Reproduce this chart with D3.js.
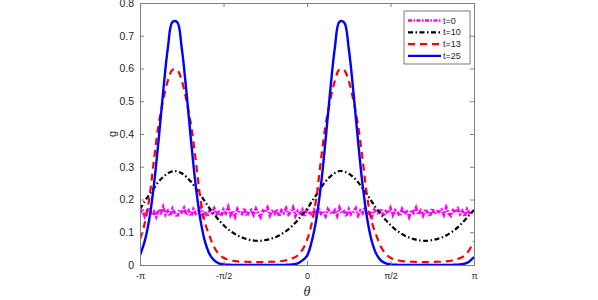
<!DOCTYPE html>
<html>
<head>
<meta charset="utf-8">
<script src="https://d3js.org/d3.v7.min.js"></script>
<style>
  body { margin: 0; background: #fff; }
  text { font-family: "Liberation Sans", Helvetica, Arial, sans-serif; fill: #262626; }
</style>
</head>
<body>
<div id="chart"></div>
<script>
// angle grid in degrees (-pi .. pi)
var thetaDeg = [-180,-175,-170,-165,-160,-155,-150,-145,-140,-135,-130,-125,-120,-115,-110,-105,-100,-95,-90,-85,-80,-75,-70,-65,-60,-55,-50,-45,-40,-35,-30,-25,-20,-15,-10,-5,
  0,5,10,15,20,25,30,35,40,45,50,55,60,65,70,75,80,85,90,95,100,105,110,115,120,125,130,135,140,145,150,155,160,165,170,175,180];

var g10 = [0.170,0.194,0.215,0.235,0.254,0.269,0.280,0.286,0.286,0.280,0.269,0.254,0.235,0.215,0.194,0.173,0.155,0.137,0.122,0.109,0.099,0.090,0.084,0.079,0.076,0.074,0.074,0.076,0.079,0.084,0.090,0.099,0.109,0.122,0.137,0.155,
  0.171,0.193,0.214,0.236,0.255,0.270,0.281,0.287,0.285,0.279,0.268,0.253,0.234,0.214,0.193,0.172,0.154,0.137,0.122,0.109,0.099,0.090,0.084,0.079,0.076,0.074,0.074,0.076,0.079,0.084,0.090,0.099,0.109,0.122,0.137,0.153,0.168];

var g13 = [0.078,0.126,0.203,0.320,0.428,0.503,0.563,0.596,0.596,0.563,0.503,0.428,0.322,0.205,0.130,0.088,0.054,0.033,0.022,0.016,0.013,0.011,0.010,0.010,0.009,0.009,0.009,0.009,0.010,0.010,0.011,0.013,0.016,0.021,0.029,0.046,
  0.076,0.126,0.203,0.320,0.427,0.502,0.562,0.597,0.595,0.562,0.502,0.427,0.321,0.205,0.130,0.088,0.054,0.033,0.022,0.016,0.013,0.011,0.010,0.010,0.009,0.009,0.009,0.009,0.010,0.010,0.011,0.013,0.016,0.021,0.029,0.046,0.072];

var g25 = [0.030,0.072,0.140,0.244,0.380,0.530,0.662,0.742,0.742,0.662,0.530,0.380,0.244,0.140,0.072,0.033,0.014,0.005,0.002,0.001,0,0,0,0,0,0,0,0,0,0,0,0,0.001,0.002,0.005,0.014,
  0.028,0.071,0.139,0.243,0.381,0.531,0.663,0.743,0.741,0.661,0.529,0.379,0.243,0.139,0.071,0.032,0.013,0.005,0.002,0.001,0,0,0,0,0,0,0,0,0,0,0,0,0.001,0.002,0.004,0.011,0.024];

// t=0 : noisy, sampled every 2.5 degrees
var g0 = [0.158,0.171,0.149,0.166,0.175,0.152,0.163,0.147,0.169,0.160,
  0.178,0.154,0.165,0.150,0.172,0.158,0.146,0.168,0.161,0.174,
  0.153,0.166,0.149,0.170,0.157,0.163,0.176,0.151,0.164,0.148,
  0.167,0.159,0.173,0.155,0.162,0.150,0.169,0.158,0.177,0.152,
  0.165,0.147,0.171,0.160,0.156,0.174,0.149,0.163,0.168,0.153,
  0.172,0.158,0.146,0.166,0.161,0.175,0.151,0.164,0.157,0.170,
  0.148,0.167,0.159,0.173,0.154,0.162,0.176,0.150,0.165,0.158,
  0.169,0.147,0.172,0.160,0.155,0.168,0.152,0.174,0.157,0.163,
  0.149,0.171,0.161,0.156,0.167,0.150,0.175,0.159,0.164,0.148,
  0.170,0.155,0.162,0.173,0.151,0.166,0.158,0.177,0.153,0.165,
  0.147,0.169,0.160,0.156,0.172,0.149,0.164,0.158,0.174,0.152,
  0.167,0.161,0.150,0.171,0.157,0.163,0.146,0.168,0.159,0.175,
  0.154,0.166,0.151,0.170,0.160,0.148,0.173,0.156,0.164,0.162,
  0.169,0.153,0.176,0.158,0.150,0.167,0.161,0.172,0.155,0.165,
  0.148,0.170,0.159,0.163,0.157];

var xTicks = [-180, -90, 0, 90, 180];
var xTickLabels = ["-\u03c0", "-\u03c0/2", "0", "\u03c0/2", "\u03c0"];
var yTicks = [0, 0.1, 0.2, 0.3, 0.4, 0.5, 0.6, 0.7, 0.8];
var legendLabels = ["t=0", "t=10", "t=13", "t=25"];

var W = 598, H = 300;
var pL = 140, pR = 474, pT = 3, pB = 265;

var svg = d3.select('#chart').append('svg')
  .attr('width', W).attr('height', H);

var x = d3.scaleLinear().domain([-180, 180]).range([pL, pR]);
var y = d3.scaleLinear().domain([0, 0.8]).range([pB, pT]);

svg.append('defs').append('clipPath').attr('id', 'clip')
  .append('rect').attr('x', pL).attr('y', pT)
  .attr('width', pR - pL).attr('height', pB - pT);

var plot = svg.append('g').attr('clip-path', 'url(#clip)');

var noiseStep = 360 / (g0.length - 1);
var series = [
  { data: g0.map(function(v, i){ return [-180 + i * noiseStep, v]; }), color: '#ff00ff', dash: '4,1.5,1.5,1.5', w: 2.8, curve: d3.curveLinear },
  { data: thetaDeg.map(function(t, i){ return [t, g10[i]]; }), color: '#000000', dash: '5,2.5,1.5,2.5', w: 2.2, curve: d3.curveCatmullRom },
  { data: thetaDeg.map(function(t, i){ return [t, g13[i]]; }), color: '#ff0000', dash: '7,5', w: 2.2, curve: d3.curveCatmullRom },
  { data: thetaDeg.map(function(t, i){ return [t, g25[i]]; }), color: '#0000ff', dash: null, w: 2.4, curve: d3.curveCatmullRom }
];

series.forEach(function(s){
  var line = d3.line()
    .x(function(d){ return x(d[0]); })
    .y(function(d){ return y(d[1]); })
    .curve(s.curve);
  plot.append('path')
    .datum(s.data)
    .attr('d', line)
    .attr('fill', 'none')
    .attr('stroke', s.color)
    .attr('stroke-width', s.w)
    .attr('stroke-dasharray', s.dash);
});

// axes (box with inward ticks)
var axisColor = '#808080';
var xAxisB = d3.axisBottom(x).tickValues(xTicks).tickSizeInner(-4).tickSizeOuter(0)
  .tickFormat(function(d, i){ return xTickLabels[i]; });
var gx = svg.append('g').attr('transform', 'translate(0,' + pB + ')').call(xAxisB);
gx.selectAll('text').attr('y', 8).attr('dy', '0.71em').style('font-size', '9px');

var xAxisT = d3.axisTop(x).tickValues(xTicks).tickSizeInner(-4).tickSizeOuter(0).tickFormat('');
svg.append('g').attr('transform', 'translate(0,' + pT + ')').call(xAxisT);

var yAxisL = d3.axisLeft(y).tickValues(yTicks).tickSizeInner(-4).tickSizeOuter(0)
  .tickFormat(function(d){ return String(+d.toFixed(1)); });
var gy = svg.append('g').attr('transform', 'translate(' + pL + ',0)').call(yAxisL);
gy.selectAll('text').attr('x', -6).style('font-size', '10.5px');

var yAxisR = d3.axisRight(y).tickValues(yTicks).tickSizeInner(-4).tickSizeOuter(0).tickFormat('');
svg.append('g').attr('transform', 'translate(' + pR + ',0)').call(yAxisR);

svg.selectAll('.domain, .tick line').attr('stroke', axisColor);
svg.selectAll('.tick text').attr('fill', '#262626').style('font-family', '"Liberation Sans", Helvetica, Arial, sans-serif');

// axis labels
svg.append('text')
  .attr('transform', 'translate(113,' + ((pT + pB) / 2) + ') rotate(-90)')
  .attr('text-anchor', 'middle')
  .attr('dy', '0.25em')
  .style('font-size', '11px')
  .text('g');

svg.append('text')
  .attr('x', (pL + pR) / 2).attr('y', 296)
  .attr('text-anchor', 'middle')
  .style('font-family', '"Liberation Serif", "DejaVu Serif", serif')
  .style('font-style', 'italic')
  .style('font-size', '14px')
  .text('\u03b8');

// legend
var lg = svg.append('g').attr('transform', 'translate(404,11)');
lg.append('rect').attr('width', 66).attr('height', 53)
  .attr('fill', '#fff').attr('stroke', '#262626').attr('stroke-width', 0.6);
legendLabels.forEach(function(lab, i){
  var yy = 9.5 + i * 11.8;
  var s = series[i];
  lg.append('line').attr('x1', 4).attr('x2', 37).attr('y1', yy).attr('y2', yy)
    .attr('stroke', s.color).attr('stroke-width', Math.min(s.w, 2.4))
    .attr('stroke-dasharray', s.dash);
  lg.append('text').attr('x', 39).attr('y', yy).attr('dy', '0.35em')
    .style('font-size', '9px').text(lab);
});
</script>
</body>
</html>
